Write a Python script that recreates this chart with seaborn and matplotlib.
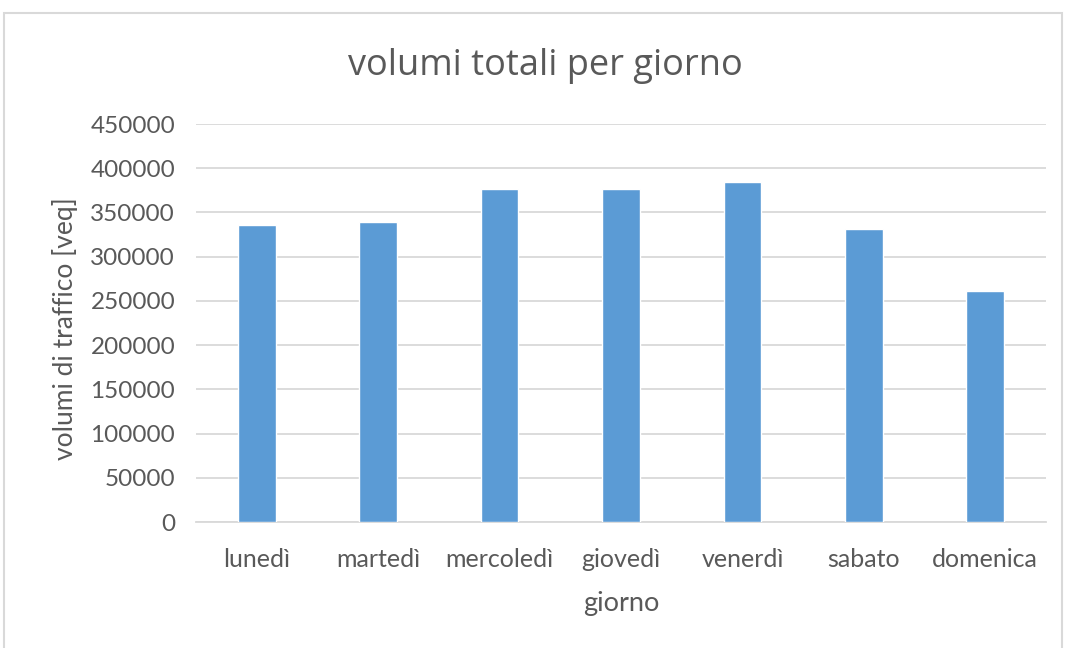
import matplotlib
matplotlib.use('Agg')
import matplotlib.pyplot as plt
import seaborn as sns
import pandas as pd
from matplotlib.patches import Rectangle

# dati
giorni = ['lunedì', 'martedì', 'mercoledì', 'giovedì', 'venerdì', 'sabato', 'domenica']
volumi = [336000, 339000, 376000, 376000, 384500, 331000, 261500]
yticks = [0, 50000, 100000, 150000, 200000, 250000, 300000, 350000, 400000, 450000]

df = pd.DataFrame({'giorno': giorni, 'volumi': volumi})

sns.set_theme(style='white')
plt.rcParams['font.family'] = ['Lato', 'DejaVu Sans']

grigio = '#595959'
fig = plt.figure(figsize=(10.67, 6.48), dpi=100)
ax = fig.add_axes([0.1837, 0.1944, 0.7966, 0.6142])

sns.barplot(data=df, x='giorno', y='volumi', color='#5B9BD5', width=0.31,
            saturation=1, ax=ax, zorder=3)

ax.set_ylim(0, 450000)
ax.set_yticks(yticks)
ax.set_yticklabels([str(v) for v in yticks])
ax.set_xlim(-0.5, len(giorni) - 0.5)
ax.grid(axis='y', color='#D9D9D9', linewidth=1.3, zorder=0)
ax.grid(axis='x', visible=False)
for s in ['top', 'right', 'left']:
    ax.spines[s].set_visible(False)
ax.spines['bottom'].set_color('#D9D9D9')
ax.spines['bottom'].set_linewidth(1.3)
ax.tick_params(axis='both', length=0, colors=grigio)
ax.tick_params(axis='x', pad=19, labelsize=18)
ax.tick_params(axis='y', pad=15, labelsize=17.5)

ax.set_xlabel('giorno', fontsize=19.5, color=grigio, va='center')
ax.xaxis.set_label_coords(0.5, -0.2035)
ax.set_ylabel('volumi di traffico [veq]', fontsize=19, color=grigio, va='center')
ax.yaxis.set_label_coords(-0.154, 0.485)
fig.text(0.511, 0.898, 'volumi totali per giorno', fontsize=26, color=grigio,
         ha='center', va='center', family=['Open Sans', 'DejaVu Sans'])

# cornice del grafico
fig.patches.append(Rectangle((4 / 1067, -0.01), 1058 / 1067, 1 - 13 / 648 + 0.01,
                             transform=fig.transFigure, fill=False,
                             edgecolor='#D9D9D9', linewidth=1.5))

fig.savefig('out.png', dpi=100)
